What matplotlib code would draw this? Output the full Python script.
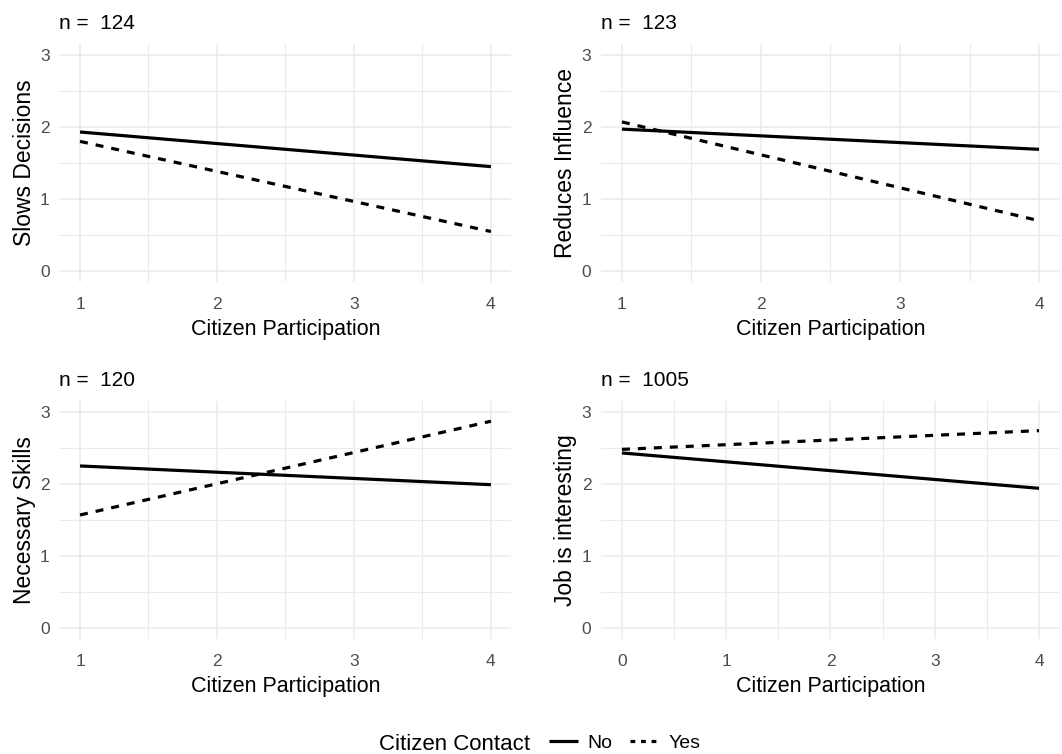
import matplotlib
matplotlib.use("Agg")
import matplotlib.pyplot as plt
from matplotlib.lines import Line2D
import numpy as np

plt.rcParams['font.family'] = ['Liberation Sans', 'DejaVu Sans']

# data: predicted values at the ends of x range
panel_titles = ["n =  124", "n =  123", "n =  120", "n =  1005"]
y_labels = ["Slows Decisions", "Reduces Influence", "Necessary Skills", "Job is interesting"]
x_ranges = [(1, 4), (1, 4), (1, 4), (0, 4)]
no_contact = [(1.93, 1.45), (1.97, 1.69), (2.25, 1.99), (2.43, 1.94)]
yes_contact = [(1.80, 0.55), (2.07, 0.70), (1.57, 2.87), (2.48, 2.74)]

# axes positions [left, bottom, width, height] in figure fractions
positions = [
    [0.056, 0.626, 0.4256, 0.3156],
    [0.566, 0.626, 0.432, 0.3156],
    [0.056, 0.1525, 0.4256, 0.3156],
    [0.566, 0.1525, 0.432, 0.3156],
]

fig = plt.figure(figsize=(10.62, 7.54), dpi=100)

lw = 2.3
for i in range(4):
    ax = fig.add_axes(positions[i])
    x0, x1 = x_ranges[i]
    xs = [x0, x1]
    ax.plot(xs, no_contact[i], color='black', lw=lw, solid_capstyle='butt')
    ax.plot(xs, yes_contact[i], color='black', lw=lw, dashes=(2.5, 2.5), dash_capstyle='butt')

    span = x1 - x0
    ax.set_xlim(x0 - 0.05 * span, x1 + 0.05 * span)
    ax.set_ylim(-0.15, 3.15)
    major_x = np.arange(x0, x1 + 1)
    ax.set_xticks(major_x)
    ax.set_xticks(major_x[:-1] + 0.5, minor=True)
    ax.set_yticks([0, 1, 2, 3])
    ax.set_yticks([0.5, 1.5, 2.5], minor=True)
    ax.grid(True, which='major', color='#EBEBEB', lw=1.1)
    ax.grid(True, which='minor', color='#EBEBEB', lw=0.8)
    ax.set_axisbelow(True)
    for s in ax.spines.values():
        s.set_visible(False)
    ax.tick_params(which='both', length=0, labelsize=12.5, labelcolor='#4D4D4D')
    ax.tick_params(axis='x', pad=10.5)
    ax.tick_params(axis='y', pad=7)
    ax.set_xlabel("Citizen Participation", fontsize=15.5, labelpad=5)
    ax.set_ylabel(y_labels[i], fontsize=16.5, labelpad=3)
    ax.set_title(panel_titles[i], loc='left', fontsize=15, pad=11)

# legend at bottom
fig.text(0.4995, 0.0053, "Citizen Contact", fontsize=16, ha='right', va='baseline')
handles = [
    Line2D([], [], color='black', lw=lw, solid_capstyle='butt'),
    Line2D([], [], color='black', lw=lw, dashes=(1.5, 1.8)),
]
fig.legend(handles, ["No", "Yes"], loc='center left', bbox_to_anchor=(0.500, 0.0146),
           ncol=2, frameon=False, fontsize=14, handlelength=1.5, handletextpad=0.5,
           columnspacing=0.9)

fig.savefig("out.png", dpi=100)
